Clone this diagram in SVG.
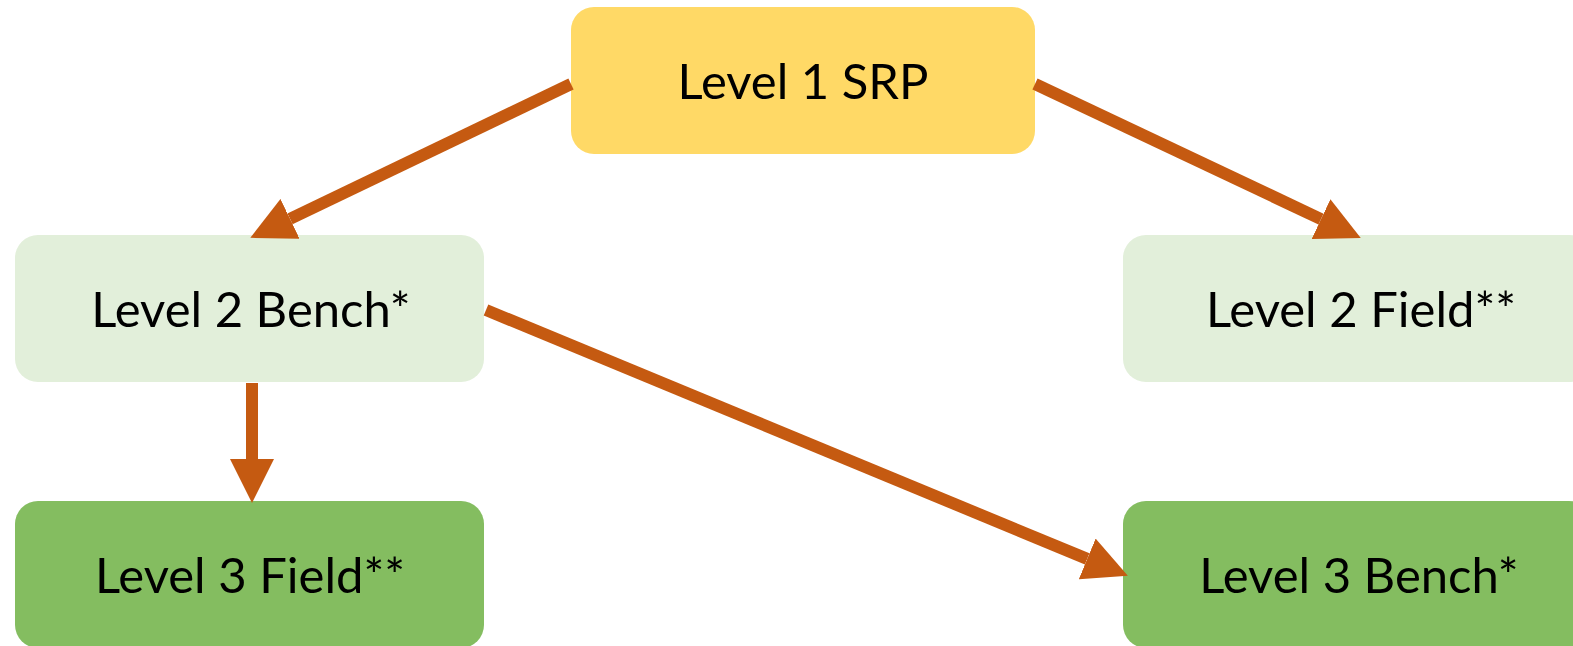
<svg xmlns="http://www.w3.org/2000/svg" width="1573" height="646" viewBox="0 0 1573 646">
  <style>
    .box { stroke: none; }
    .lvl1 { fill: #FFD966; }
    .lvl2 { fill: #E2EFDA; }
    .lvl3 { fill: #84BD60; }
    .label { font-family: Lato, "Open Sans", "Liberation Sans", sans-serif; font-size: 49px; fill: #000; text-anchor: middle; }
    .conn { stroke: #C55A11; stroke-width: 12; fill: none; stroke-linecap: butt; marker-end: url(#head); }
  </style>
  <defs>
    <marker id="head" markerUnits="userSpaceOnUse" markerWidth="44" markerHeight="44" viewBox="0 -21 42 42" refX="0" refY="0" orient="auto">
      <path d="M0,-21 L42,0 L0,21 Z" fill="#C55A11"/>
    </marker>
  </defs>

  <g id="node-level1-srp">
    <rect class="box lvl1" x="571" y="7" width="464" height="147" rx="23"/>
    <text class="label" x="803" y="99">Level 1 SRP</text>
  </g>
  <g id="node-level2-bench">
    <rect class="box lvl2" x="15" y="235" width="469" height="147" rx="23"/>
    <text class="label" x="251" y="327">Level 2 Bench*</text>
  </g>
  <g id="node-level2-field">
    <rect class="box lvl2" x="1123" y="235" width="469" height="147" rx="23"/>
    <text class="label" x="1361" y="327">Level 2 Field**</text>
  </g>
  <g id="node-level3-field">
    <rect class="box lvl3" x="15" y="501" width="469" height="147" rx="23"/>
    <text class="label" x="250" y="593">Level 3 Field**</text>
  </g>
  <g id="node-level3-bench">
    <rect class="box lvl3" x="1123" y="501" width="469" height="147" rx="23"/>
    <text class="label" x="1359" y="593">Level 3 Bench*</text>
  </g>

  <g id="connectors">
    <line class="conn" x1="571" y1="84" x2="290" y2="218.8"/>
    <line class="conn" x1="1035" y1="84" x2="1321" y2="219.1"/>
    <line class="conn" x1="252" y1="383" x2="252" y2="459"/>
    <line class="conn" x1="486" y1="310" x2="1087.2" y2="558.9"/>
  </g>
</svg>
